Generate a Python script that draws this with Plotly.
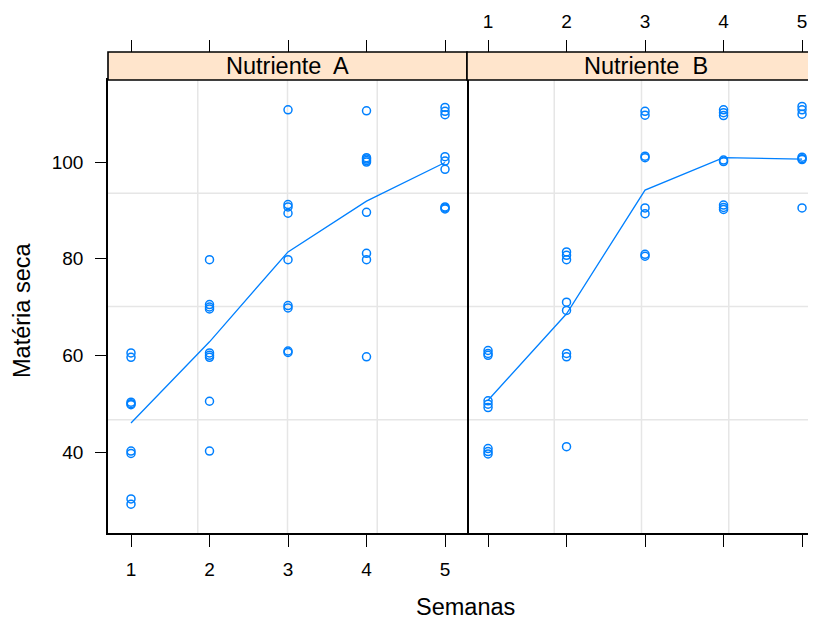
import plotly.graph_objects as go

# ---------------- data ----------------
semanas = [1, 2, 3, 4, 5]
semana_labels = ["1", "2", "3", "4", "5"]
y_ticks = [40, 60, 80, 100]

# Matéria seca observada, por semana (Nutriente A)
ms_A = [
    [60.5, 59.6, 50.3, 50.0, 49.8, 40.2, 39.7, 30.3, 29.2],
    [79.8, 70.5, 70.0, 69.6, 60.5, 60.0, 59.6, 50.5, 40.2],
    [110.8, 91.2, 90.7, 89.4, 79.8, 70.3, 69.8, 60.9, 60.6],
    [110.6, 100.9, 100.6, 100.3, 100.0, 89.6, 81.1, 79.8, 59.7],
    [111.3, 110.5, 109.8, 101.1, 100.2, 98.5, 90.7, 90.5, 90.3],
]
# Matéria seca observada, por semana (Nutriente B)
ms_B = [
    [61.0, 60.4, 60.0, 50.6, 49.9, 49.2, 40.7, 40.1, 39.6],
    [81.4, 80.7, 79.8, 71.0, 69.3, 60.4, 59.7, 41.1],
    [110.5, 109.7, 101.2, 100.9, 90.5, 89.3, 80.9, 80.5],
    [110.8, 110.2, 109.6, 100.4, 100.1, 91.1, 90.6, 90.2],
    [111.5, 110.8, 109.9, 101.0, 100.7, 100.5, 90.5],
]
# médias (linha)
media_A = [46.0, 62.8, 81.4, 91.9, 99.9]
media_B = [50.7, 68.6, 94.2, 100.9, 100.6]

paineis = ["Nutriente\u00a0 A", "Nutriente\u00a0 B"]

# ---------------- styling ----------------
OFF = 8                      # page body margin
W, H = 816 - OFF, 619 - OFF  # figure size
BLUE = "#0080ff"
FONT = "Arial, 'Liberation Sans', sans-serif"
TICKF = 19
TITLEF = 23.5

def px_x(p):
    return (p - OFF) / W

def px_y(p):
    return 1 - (p - OFF) / H

xA = [px_x(108), px_x(467)]
xB = [px_x(467), 1.0]
ydom = [px_y(533), px_y(80)]
strip = [px_y(80), px_y(52)]

fig = go.Figure()

def add_panel(ms, media, xa, ya):
    xs, ys = [], []
    for s, vals in zip(semanas, ms):
        xs += [s] * len(vals)
        ys += vals
    fig.add_trace(go.Scatter(
        x=xs, y=ys, mode="markers", xaxis=xa, yaxis=ya,
        marker=dict(symbol="circle-open", size=8, color=BLUE,
                    line=dict(width=1.5, color=BLUE)),
        showlegend=False, hoverinfo="x+y"))
    fig.add_trace(go.Scatter(
        x=semanas, y=media, mode="lines", xaxis=xa, yaxis=ya,
        line=dict(color=BLUE, width=1.3), showlegend=False))

add_panel(ms_A, media_A, "x", "y")
add_panel(ms_B, media_B, "x2", "y2")

yr = [23.24, 116.97]
common_x = dict(tickvals=semanas, ticktext=semana_labels, ticks="outside",
                ticklen=12, tickwidth=1.4, tickcolor="black",
                showgrid=False, zeroline=False,
                tickfont=dict(family=FONT, size=TICKF, color="black"))

fig.update_layout(
    width=W, height=H,
    margin=dict(l=0, r=0, t=0, b=0),
    paper_bgcolor="white", plot_bgcolor="white",
    font=dict(family=FONT, color="black"),
    xaxis=dict(domain=xA, range=[0.707, 5.28], anchor="y",
               showline=True, mirror=True, linecolor="black", linewidth=1.6,
               ticklabelstandoff=6, **common_x),
    xaxis2=dict(domain=xB, range=[0.732, 5.178], anchor="y2",
                showline=True, mirror=True, linecolor="black", linewidth=1.6,
                showticklabels=False, **common_x),
    xaxis3=dict(overlaying="x", side="top", anchor="free", position=strip[1],
                range=[0.707, 5.28], showticklabels=False, showline=False,
                **common_x),
    xaxis4=dict(overlaying="x2", side="top", anchor="free", position=strip[1],
                range=[0.732, 5.178], showline=False, ticklabelstandoff=4,
                **common_x),
    yaxis=dict(domain=ydom, range=yr, anchor="x", tickvals=y_ticks,
               ticks="outside", ticklen=11, tickwidth=1.4, tickcolor="black",
               showline=True, mirror=True, linecolor="black", linewidth=1.6,
               showgrid=False, zeroline=False, ticklabelstandoff=8,
               tickfont=dict(family=FONT, size=TICKF, color="black")),
    yaxis2=dict(domain=ydom, range=yr, anchor="x2", showticklabels=False,
                ticks="", showline=False, showgrid=False, zeroline=False),
)

# dummy traces to activate top axes
fig.add_trace(go.Scatter(x=[None], y=[None], xaxis="x3", yaxis="y", showlegend=False))
fig.add_trace(go.Scatter(x=[None], y=[None], xaxis="x4", yaxis="y2", showlegend=False))

shapes = []
# grid lines at quarters of each panel
for xr, yrf in (("x domain", "y domain"), ("x2 domain", "y2 domain")):
    for f in (0.25, 0.5, 0.75):
        shapes.append(dict(type="line", xref=xr, yref=yrf, x0=f, x1=f, y0=0, y1=1,
                           line=dict(color="#e6e6e6", width=1.5), layer="below"))
        shapes.append(dict(type="line", xref=xr, yref=yrf, x0=0, x1=1, y0=f, y1=f,
                           line=dict(color="#e6e6e6", width=1.5), layer="below"))
# strips
for x0, x1 in ((xA[0], xA[1]), (xB[0], px_x(826))):
    shapes.append(dict(type="rect", xref="paper", yref="paper", x0=x0, x1=x1,
                       y0=strip[0], y1=strip[1], fillcolor="#ffe5cc",
                       line=dict(color="black", width=1.6), layer="above"))
fig.update_layout(shapes=shapes)

ann = []
for name, cx in zip(paineis, (px_x(287.5), px_x(646))):
    ann.append(dict(text=name, x=cx, y=px_y(66), xref="paper", yref="paper",
                    showarrow=False, xanchor="center", yanchor="middle",
                    font=dict(family=FONT, size=TITLEF, color="black")))
ann.append(dict(text="Semanas", x=px_x(466), y=px_y(607), xref="paper", yref="paper",
                showarrow=False, xanchor="center", yanchor="middle",
                font=dict(family=FONT, size=TITLEF, color="black")))
ann.append(dict(text="Matéria seca", x=px_x(22), y=px_y(311), xref="paper", yref="paper",
                showarrow=False, xanchor="center", yanchor="middle", textangle=-90,
                font=dict(family=FONT, size=TITLEF, color="black")))
fig.update_layout(annotations=ann)

fig.write_html("out.html")
